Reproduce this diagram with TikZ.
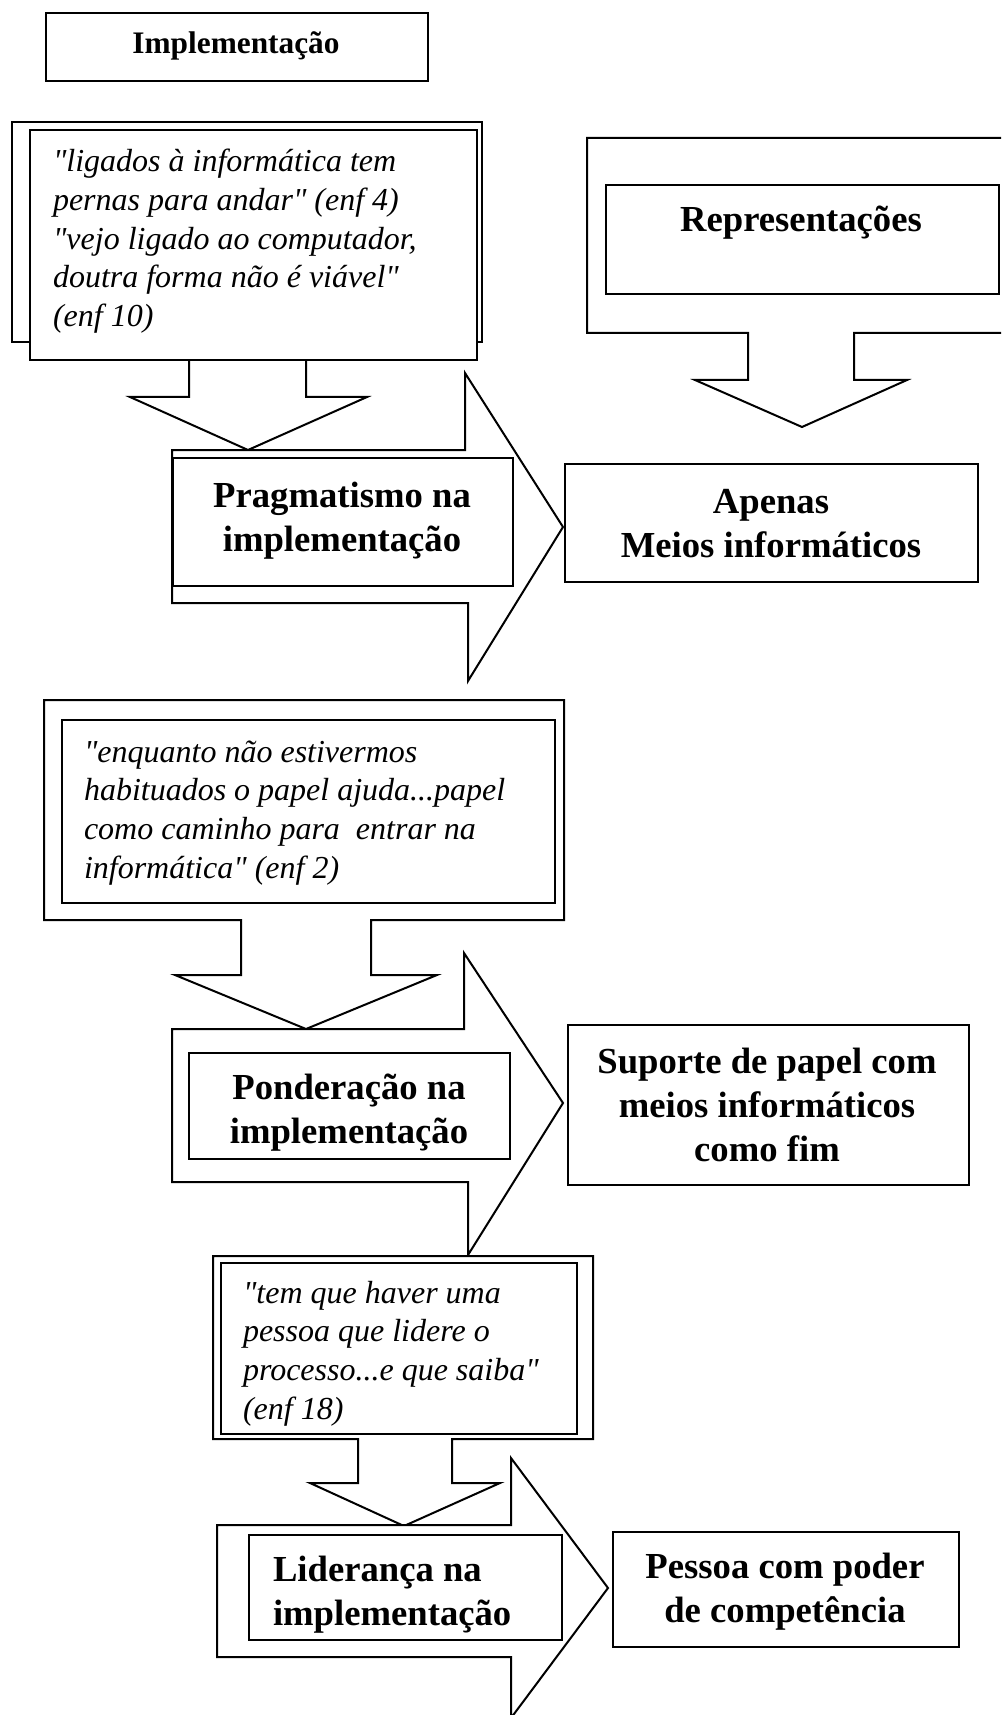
\documentclass[tikz,border=0pt]{standalone}
\usepackage{fontspec}
\setmainfont{Liberation Serif}[Ligatures=TeXOff]
\newcommand\leftlinesx[1]{\begin{tabular}[t]{@{}l@{}}#1\end{tabular}}
\newcommand\centerlinesx[1]{\begin{tabular}[t]{@{}c@{}}#1\end{tabular}}
\begin{document}
\begin{tikzpicture}[x=0.75pt,y=-0.75pt,line width=1.5pt,line join=miter,
  box/.style={draw,fill=white,inner sep=0pt},
  pxsize/.style 2 args={minimum width=#1*0.75pt,minimum height=#2*0.75pt},
  blockarrow/.style={draw,fill=white},
  quotetext/.style={font=\fontsize{24}{29}\selectfont\itshape,anchor=base west,inner sep=0pt},
  boldtext/.style={font=\fontsize{27.5}{33.5}\selectfont\bfseries,anchor=base,inner sep=0pt},
  titletext/.style={font=\fontsize{23.5}{28}\selectfont\bfseries,anchor=base,inner sep=0pt}]
\clip (0,0) rectangle (1001,1715);
\fill[white] (0,0) rectangle (1001,1715);

% Title
\node[box,pxsize={382}{68}] (title) at (237,47) {};
\node[titletext] (titlet) at (236,54) {Implementação};

% Quote 1 (double box) with down arrow
\node[box,pxsize={470}{220}] (q1back) at (247,232) {};
\draw[blockarrow] (189,355) -- (189,397) -- (130,397) -- (248,450) -- (367,397) -- (306,397) -- (306,355);
\node[box,pxsize={447}{230}] (q1) at (253.5,245) {};
\node[quotetext] (q1t) at (52,172) {\leftlinesx{"ligados à informática tem\\pernas para andar" (enf 4)\\"vejo ligado ao computador,\\doutra forma não é viável"\\(enf 10)}};

% Representações callout with down arrow
\draw[blockarrow] (1010,138) -- (587,138) -- (587,333) -- (748,333) -- (748,380) -- (695,380) -- (802,427) -- (907,380) -- (854,380) -- (854,333) -- (1010,333);
\node[box,pxsize={393}{109}] (rep) at (802.5,239.5) {};
\node[boldtext] (rept) at (801,232) {Representações};

% Right arrow 1: Pragmatismo
\draw[blockarrow] (172,450) -- (465,450) -- (465,373) -- (563,527) -- (468,681) -- (468,603) -- (172,603) -- cycle;
\node[box,pxsize={340}{128}] (prag) at (343,522) {};
\node[boldtext] (pragt) at (342,507) {\centerlinesx{Pragmatismo na\\implementação}};

% Apenas
\node[box,pxsize={413}{118}] (apenas) at (771.5,523) {};
\node[boldtext] (apenast) at (771,513) {\centerlinesx{Apenas\\Meios informáticos}};

% Quote 2 callout with down arrow
\draw[blockarrow] (241,920) -- (44,920) -- (44,700) -- (564,700) -- (564,920) -- (371,920) -- (371,975) -- (437,975) -- (306,1029) -- (175,975) -- (241,975) -- cycle;
\node[box,pxsize={493}{183}] (q2) at (308.5,811.5) {};
\node[quotetext] (q2t) at (83,762) {\leftlinesx{"enquanto não estivermos\\habituados o papel ajuda...papel\\como caminho para\ \ entrar na\\informática" (enf 2)}};

% Right arrow 2: Ponderação
\draw[blockarrow] (172,1029) -- (464,1029) -- (464,953) -- (563,1103) -- (468,1255) -- (468,1182) -- (172,1182) -- cycle;
\node[box,pxsize={321}{106}] (pond) at (349.5,1106) {};
\node[boldtext] (pondt) at (349,1099) {\centerlinesx{Ponderação na\\implementação}};

% Suporte
\node[box,pxsize={401}{160}] (sup) at (768.5,1105) {};
\node[boldtext,font=\fontsize{27.5}{33}\selectfont\bfseries] (supt) at (767,1073) {\centerlinesx{Suporte de papel com\\meios informáticos\\como fim}};

% Quote 3 callout with down arrow
\draw[blockarrow] (358,1439) -- (213,1439) -- (213,1256) -- (593,1256) -- (593,1439) -- (452,1439) -- (452,1483) -- (500,1483) -- (404,1526) -- (310,1483) -- (358,1483) -- cycle;
\node[box,pxsize={356}{171}] (q3) at (399,1348.5) {};
\node[quotetext] (q3t) at (242,1303) {\leftlinesx{"tem que haver uma\\pessoa que lidere o\\processo...e que saiba"\\(enf 18)}};

% Right arrow 3: Liderança
\draw[blockarrow] (217,1525) -- (511,1525) -- (511,1458) -- (608,1588) -- (511,1718) -- (511,1657) -- (217,1657) -- cycle;
\node[box,pxsize={313}{105}] (lid) at (405.5,1587.5) {};
\node[boldtext,anchor=base west] (lidt) at (272,1581) {\leftlinesx{Liderança na\\implementação}};

% Pessoa
\node[box,pxsize={346}{115}] (pes) at (786,1589.5) {};
\node[boldtext] (pest) at (785,1578) {\centerlinesx{Pessoa com poder\\de competência}};
\end{tikzpicture}
\end{document}
